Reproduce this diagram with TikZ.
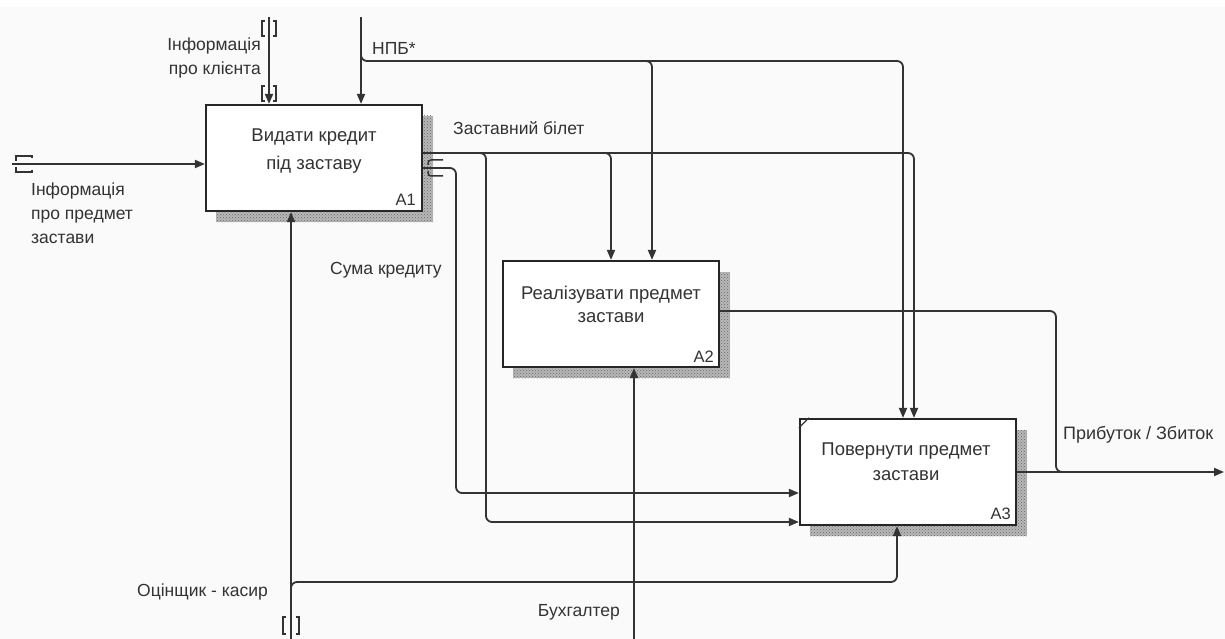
\documentclass[tikz,border=0pt]{standalone}
\usepackage{fontspec}
\setmainfont{Liberation Sans}
\usetikzlibrary{arrows.meta,patterns,calc}
\begin{document}
\begin{tikzpicture}[x=1pt,y=-1pt,
  line/.style={draw=black!80, line width=1.8pt},
  arr/.style={line, -{Triangle[length=10pt,width=8pt]}},
  rc/.style={rounded corners=6pt},
  tun/.style={draw=black!80, line width=1.5pt},
  shadowfill/.style={fill=black!28, postaction={pattern=crosshatch dots, pattern color=black!60}},
  box/.style={draw=black!85, line width=2.2pt, fill=white, minimum width=216pt, minimum height=106pt, inner sep=0pt},
  boxtxt/.style={text=black!80, align=center, inner sep=0pt},
  lbl/.style={font=\fontsize{17.5}{24}\selectfont, text=black!80, inner sep=0pt},
  numlbl/.style={font=\fontsize{16.5}{18}\selectfont, text=black!80, inner sep=0pt, anchor=east}
]
\useasboundingbox (0,0) rectangle (1225,639);
\fill[black!2] (0,0) rectangle (1225,639);
\fill[white] (0,0) rectangle (1225,7);

% shadows
\fill[shadowfill] (216,116) rectangle (433,222);
\fill[shadowfill] (513,272) rectangle (730,378);
\fill[shadowfill] (810,430) rectangle (1027,536);

% boxes
\node[box] (A1) at (314,158) {};
\node[box] (A2) at (611,314) {};
\node[box] (A3) at (908,472) {};
\draw[line, line width=1.2pt] ($(A3.north west)+(0,10)$) -- ($(A3.north west)+(10,0)$);

\node[boxtxt, font=\fontsize{18.5}{28}\selectfont] (t1) at (314,151) {Видати кредит\\під заставу};
\node[boxtxt, font=\fontsize{18.5}{23}\selectfont] (t2) at (611,304) {Реалізувати предмет\\застави};
\node[boxtxt, font=\fontsize{18.5}{25}\selectfont] (t3) at (906,462) {Повернути предмет\\застави};
\node[numlbl] (n1) at (416,200) {A1};
\node[numlbl] (n2) at (714,357) {A2};
\node[numlbl] (n3) at (1011,514) {A3};

% input: information about pledge item
\coordinate (inP) at (12,164);
\draw[arr] (inP) -- (inP -| A1.west);
\draw[tun] (16,161) -- (16,156) -- (32,156) -- (32,158);
\draw[tun] (16,167) -- (16,172) -- (32,172) -- (32,170);
\node[lbl, align=left, anchor=west] (linP) at (31,213) {Інформація\\про предмет\\застави};

% control: information about client
\coordinate (cC) at (269,17);
\draw[arr] (cC) -- (cC |- A1.north);
\draw[tun] (265,21) -- (262,21) -- (262,36) -- (265,36);
\draw[tun] (273,21) -- (276,21) -- (276,36) -- (273,36);
\draw[tun] (265,86) -- (262,86) -- (262,101) -- (265,101);
\draw[tun] (273,86) -- (276,86) -- (276,101) -- (273,101);
\node[lbl, align=right, anchor=east] (lcC) at (261,58) {Інформація\\про клієнта};

% control: NPB
\coordinate (cN) at (361,17);
\draw[arr] (cN) -- (cN |- A1.north);
\coordinate (nJ) at (361,50);
\coordinate (nA3) at (903,61);
\coordinate (nA2) at (652,61);
\draw[arr,rc] (nJ) |- (nA3) -- (nA3 |- A3.north);
\draw[arr,rc] ($(nA2)+(-10,0)$) -- (nA2) -- (nA2 |- A2.north);
\node[lbl, anchor=west] (lN) at (372,48) {НПБ*};

% output: pledge ticket
\coordinate (zA3) at (914,153);
\coordinate (zA2) at (611,153);
\coordinate (zB) at (486,153);
\coordinate (zB2) at (486,522);
\draw[arr,rc] (A1.east |- zA3) -- (zA3) -- (zA3 |- A3.north);
\draw[arr,rc] ($(zA2)+(-10,0)$) -- (zA2) -- (zA2 |- A2.north);
\draw[arr,rc] ($(zB)+(-10,0)$) -- (zB) -- (zB2) -- (zB2 -| A3.west);
\node[lbl, anchor=west] (lZ) at (453,128) {Заставний білет};

% output: loan amount
\coordinate (s1) at (456,168);
\coordinate (s2) at (456,493);
\draw[arr,rc] (A1.east |- s1) -- (s1) -- (s2) -- (s2 -| A3.west);
\draw[tun, rounded corners=3pt] (428,165) -- (428,160) -- (443,160);
\draw[tun, rounded corners=3pt] (428,171) -- (428,176) -- (443,176);
\node[lbl, anchor=west] (lS) at (330,270) {Сума кредиту};

% output of A2 and A3
\coordinate (p1) at (1056,311);
\coordinate (p2) at (1056,472);
\draw[line,rc] (A2.east |- p1) -- (p1) -- (p2) -- ($(p2)+(12,0)$);
\coordinate (outE) at (1224,472);
\draw[arr] (A3.east |- outE) -- (outE);
\node[lbl, font=\fontsize{18}{24}\selectfont, anchor=west] (lP) at (1063,435) {Прибуток / Збиток};

% mechanism: appraiser-cashier
\coordinate (mO) at (291,639);
\draw[arr] (mO) -- (mO |- A1.south);
\coordinate (o1) at (291,590);
\coordinate (o2) at (897,582);
\draw[arr,rc] (o1) |- (o2) -- (o2 |- A3.south);
\draw[tun] (286,617) -- (283,617) -- (283,634) -- (286,634);
\draw[tun] (296,617) -- (299,617) -- (299,634) -- (296,634);
\node[lbl, anchor=east] (lO) at (268,592) {Оцінщик - касир};

% mechanism: accountant
\coordinate (mB) at (634,639);
\draw[arr] (mB) -- (mB |- A2.south);
\node[lbl, anchor=east] (lB) at (620,612) {Бухгалтер};
\end{tikzpicture}
\end{document}
